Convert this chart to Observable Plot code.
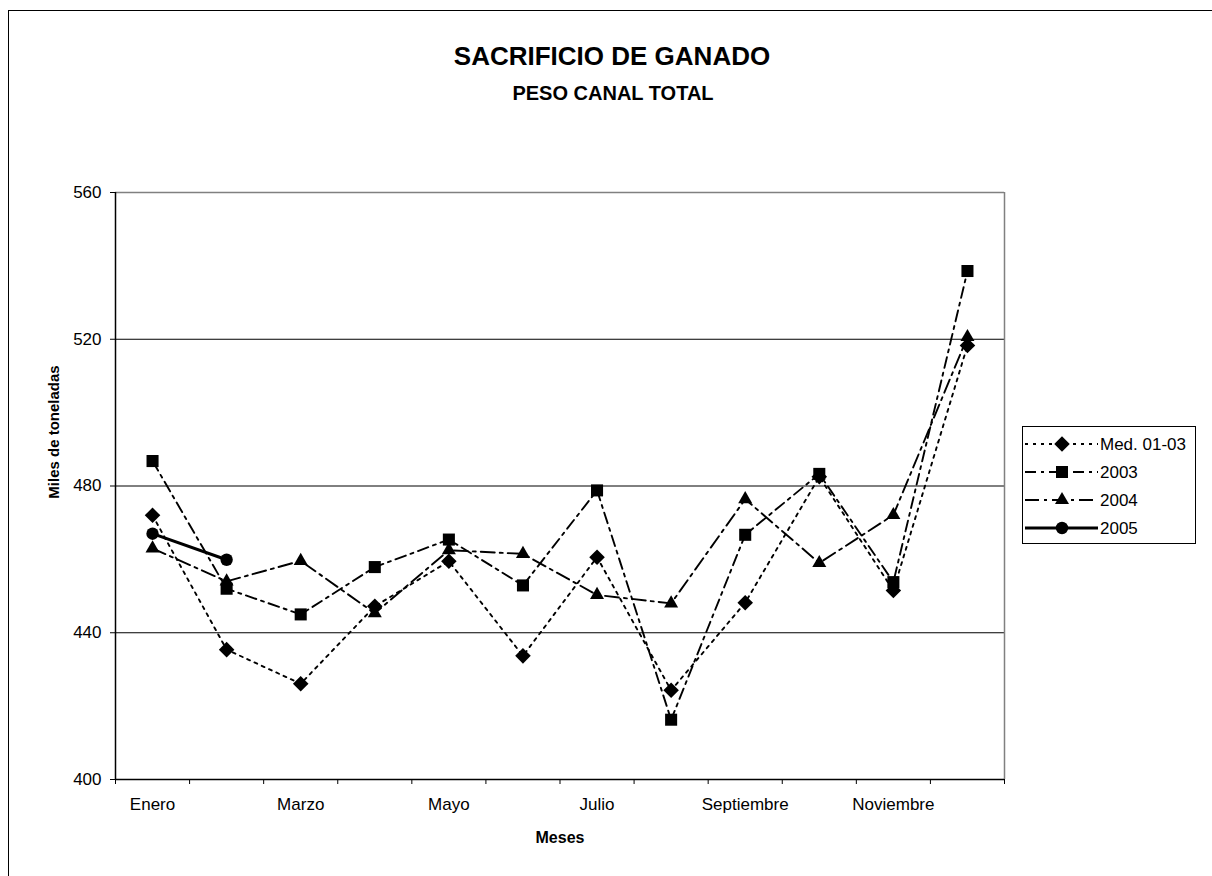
<!DOCTYPE html>
<html>
<head>
<meta charset="utf-8">
<script src="https://cdn.jsdelivr.net/npm/d3@7"></script>
<script src="https://cdn.jsdelivr.net/npm/@observablehq/plot@0.6"></script>
<style>
  html, body { margin: 0; padding: 0; background: #fff; overflow: hidden; }
  body { width: 1212px; height: 876px; position: relative; font-family: "Liberation Sans", Arial, sans-serif; }
  #frame { position: absolute; left: 8px; top: 10px; width: 1300px; height: 1000px; border-left: 1px solid #000; border-top: 1px solid #000; }
  #chart { position: absolute; left: 0; top: 0; }
  .t { position: absolute; font-weight: bold; color: #000; white-space: nowrap; }
  #legend { position: absolute; left: 0; top: 0; }
</style>
</head>
<body>
<div id="frame"></div>
<div id="chart"></div>
<div class="t" id="title" style="left:0;width:1224px;text-align:center;top:41px;font-size:26px;">SACRIFICIO DE GANADO</div>
<div class="t" id="subtitle" style="left:0;width:1226px;text-align:center;top:82px;font-size:20px;">PESO CANAL TOTAL</div>
<div class="t" id="ylabel" style="left:53px;top:432px;font-size:15px;transform:translate(-50%,-50%) rotate(-90deg);">Miles de toneladas</div>
<div class="t" id="xlabel" style="left:0;width:1120px;text-align:center;top:829px;font-size:16px;">Meses</div>
<div id="legend"></div>
<script>
// ---- data ----
const months = ["Enero","Febrero","Marzo","Abril","Mayo","Junio","Julio","Agosto","Septiembre","Octubre","Noviembre","Diciembre"];
const seriesNames = ["Med. 01-03", "2003", "2004", "2005"];
const med0103 = [472.0, 435.4, 426.1, 447.2, 459.5, 433.7, 460.6, 424.3, 448.2, 482.5, 451.5, 518.3];
const y2003  = [486.8, 452.0, 445.0, 457.9, 465.4, 452.9, 478.8, 416.3, 466.7, 483.3, 453.8, 538.6];
const y2004  = [463.0, 454.0, 459.6, 445.3, 462.5, 461.5, 450.3, 448.0, 476.4, 459.0, 472.1, 520.6];
const y2005  = [467.0, 459.9];
const yTicks = [400, 440, 480, 520, 560];
const xLabelMonths = ["Enero","Marzo","Mayo","Julio","Septiembre","Noviembre"];

// ---- styles per series ----
const styles = {
  "Med. 01-03": {dash: "3,5", width: 1.9, symbol: "diamond2", r: 7.0},
  "2003": {dash: "11,5,3,5", width: 1.9, symbol: "square", r: 6.8},
  "2004": {dash: "14,5,3,5", width: 1.9, symbol: "triangle", r: 5.2},
  "2005": {dash: null, width: 3, symbol: "circle", r: 6.2}
};
const valuesBy = {"Med. 01-03": med0103, "2003": y2003, "2004": y2004, "2005": y2005};

const rows = [];
for (const s of seriesNames) valuesBy[s].forEach((v, i) => rows.push({serie: s, mes: months[i], i, v}));

const W = 1212, H = 876;
const marks = [
  Plot.ruleY([440, 480, 520], {stroke: "#000", strokeWidth: 1}),
  Plot.ruleY([560], {stroke: "#808080", strokeWidth: 1.5}),
  Plot.ruleX([11.5], {stroke: "#808080", strokeWidth: 1.5}),
  Plot.ruleX([-0.5], {stroke: "#000", strokeWidth: 1.5}),
  Plot.ruleY([400], {stroke: "#000", strokeWidth: 1.5}),
  Plot.axisY(yTicks, {tickSize: 5, tickPadding: 9, fontSize: 17, label: null, stroke: "#000"}),
  Plot.axisX(d3.range(13).map(k => k - 0.5), {tickSize: 5, tickFormat: () => "", label: null}),
  Plot.axisX(xLabelMonths.map(m => months.indexOf(m)), {tickSize: 0, tickPadding: 18, fontSize: 17, tickFormat: k => months[k], label: null})
];
for (const s of seriesNames) {
  const st = styles[s];
  const d = rows.filter(r => r.serie === s);
  marks.push(Plot.line(d, {x: "i", y: "v", stroke: "#000", strokeWidth: st.width, strokeDasharray: st.dash}));
}
for (const s of seriesNames) {
  const st = styles[s];
  const d = rows.filter(r => r.serie === s);
  marks.push(Plot.dot(d, {x: "i", y: "v", symbol: st.symbol, r: st.r, fill: "#000", stroke: "none"}));
}

const chart = Plot.plot({
  width: W, height: H,
  marginLeft: 115, marginRight: 208, marginTop: 192, marginBottom: 97,
  x: {domain: [-0.5, 11.5]},
  y: {domain: [400, 560]},
  style: {fontFamily: "Liberation Sans, Arial, sans-serif", background: "transparent", color: "#000", overflow: "visible"},
  marks
});
document.getElementById("chart").appendChild(chart);

// ---- legend ----
const lg = d3.select("#legend").append("svg").attr("width", W).attr("height", H)
  .style("font-family", "Liberation Sans, Arial, sans-serif");
lg.append("rect").attr("x", 1022.5).attr("y", 426.5).attr("width", 173).attr("height", 117)
  .attr("fill", "#fff").attr("stroke", "#000").attr("stroke-width", 1);
const symMap = {diamond2: d3.symbolDiamond2, square: d3.symbolSquare, triangle: d3.symbolTriangle, circle: d3.symbolCircle};
seriesNames.forEach((s, k) => {
  const st = styles[s];
  const cy = 444 + k * 28;
  lg.append("line").attr("x1", 1025).attr("x2", 1098).attr("y1", cy).attr("y2", cy)
    .attr("stroke", "#000").attr("stroke-width", st.width).attr("stroke-dasharray", st.dash);
  lg.append("path").attr("transform", `translate(1062,${cy})`)
    .attr("d", d3.symbol(symMap[st.symbol], st.r * st.r * Math.PI)()).attr("fill", "#000");
  lg.append("text").attr("x", 1100).attr("y", cy).attr("dy", "0.36em")
    .attr("font-size", 17).attr("fill", "#000").text(s);
});
</script>
</body>
</html>
